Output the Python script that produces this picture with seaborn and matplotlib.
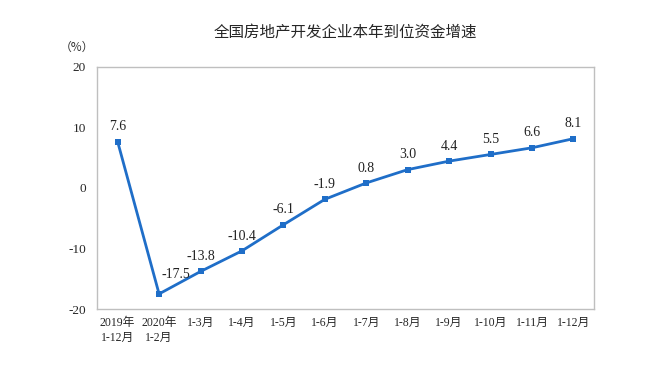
import matplotlib
matplotlib.use("Agg")
import matplotlib.pyplot as plt
import seaborn as sns
import pandas as pd

# chart data
periods = ["2019年\n1-12月", "2020年\n1-2月", "1-3月", "1-4月", "1-5月", "1-6月",
           "1-7月", "1-8月", "1-9月", "1-10月", "1-11月", "1-12月"]
growth = [7.6, -17.5, -13.8, -10.4, -6.1, -1.9, 0.8, 3.0, 4.4, 5.5, 6.6, 8.1]
y_ticks = [-20, -10, 0, 10, 20]

df = pd.DataFrame({"x": range(len(periods)), "growth": growth})

sns.set_theme(style="white")
plt.rcParams["font.family"] = ["Liberation Serif", "Noto Sans CJK SC", "DejaVu Sans"]

fig, ax = plt.subplots(figsize=(6.55, 3.76), dpi=100)
fig.subplots_adjust(left=0.148, right=0.907, top=0.823, bottom=0.178)

line_color = "#1F6EC8"
sns.lineplot(data=df, x="x", y="growth", ax=ax, color=line_color, linewidth=2,
             marker="s", markersize=4.5, markeredgewidth=0, markerfacecolor=line_color)

for xi, v in zip(df["x"], growth):
    # lowest label sits up and right of the dip
    dx, dy = (12, 9) if v < -15 else (0, 6)
    ax.annotate(f"{v:.1f}", (xi, v), xytext=(dx, dy), textcoords="offset points",
                ha="center", va="bottom", fontsize=10, color="#222222")

ax.set_xlim(-0.5, len(periods) - 0.5)
ax.set_ylim(-20, 20)
ax.set_yticks(y_ticks)
ax.set_yticklabels([str(t) for t in y_ticks], fontsize=9.5)
ax.set_xticks(range(len(periods)))
ax.set_xticklabels(periods, fontsize=8.5, linespacing=1.3)
ax.set_xlabel("")
ax.set_ylabel("")

# boundary tick marks between categories
ax.set_xticks([i + 0.5 for i in range(len(periods) - 1)], minor=True)
ax.tick_params(axis="x", which="major", length=0, pad=6)
ax.tick_params(axis="x", which="minor", direction="in", length=4, color="#BFBFBF", width=0.8)
ax.tick_params(axis="y", which="major", direction="out", length=4, color="#BFBFBF", width=0.8, pad=4)

for s in ax.spines.values():
    s.set_visible(True)
    s.set_color("#BFBFBF")
    s.set_linewidth(1)

fig.text(0.528, 0.915, "全国房地产开发企业本年到位资金增速", ha="center", va="center",
         fontsize=11.2, family=["Noto Sans CJK SC", "DejaVu Sans"])
fig.text(0.117, 0.873, "（%）", ha="center", va="center", fontsize=8.5, color="#333333",
         family=["Noto Sans CJK SC", "DejaVu Sans"])

fig.savefig("out.png", dpi=100)
